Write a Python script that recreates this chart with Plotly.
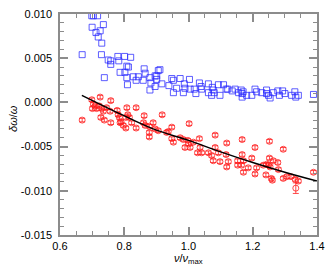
import plotly.graph_objects as go

# Blue squares (open)
blue_x = [0.699, 0.704, 0.717, 0.700, 0.735, 0.712, 0.725, 0.719, 0.730, 0.669, 0.729, 0.750, 0.758, 0.758,
          0.738, 0.780, 0.783, 0.801, 0.820, 0.808, 0.813, 0.787, 0.802, 0.808, 0.810, 0.828, 0.844, 0.837,
          0.862, 0.865, 0.859, 0.880, 0.883, 0.880, 0.896, 0.906, 0.911, 0.901, 0.901, 0.917, 0.896,
          0.948, 0.953, 0.974, 0.939, 0.963, 0.953, 0.984, 0.987, 1.003, 0.989, 1.005, 1.018, 1.023,
          1.034, 1.039, 1.041, 1.062, 1.062, 1.074, 1.077, 1.080, 1.093, 1.098, 1.072, 1.109, 1.117,
          1.122, 1.145, 1.136, 1.156, 1.164, 1.167, 1.167, 1.170, 1.181, 1.197, 1.207, 1.212, 1.228,
          1.243, 1.243, 1.249, 1.254, 1.264, 1.278, 1.293, 1.283, 1.300, 1.321, 1.331, 1.342, 1.334, 1.389]
blue_y = [0.0098, 0.0098, 0.0098, 0.0085, 0.0088, 0.0079, 0.0081, 0.0074, 0.0067, 0.0054, 0.0054, 0.0048, 0.0043, 0.0047,
          0.0028, 0.0052, 0.0047, 0.0052, 0.0051, 0.0041, 0.0040, 0.0034, 0.0034, 0.0028, 0.0020, 0.0029, 0.0029, 0.0025,
          0.0038, 0.0033, 0.0025, 0.0028, 0.0022, 0.0014, 0.0030, 0.0036, 0.0037, 0.0030, 0.0026, 0.0021, 0.0018,
          0.0027, 0.0025, 0.0027, 0.0019, 0.0016, 0.0011, 0.0011, 0.0021, 0.0026, 0.0016, 0.0015, 0.0015, 0.0010,
          0.0022, 0.0018, 0.0015, 0.0021, 0.0011, 0.0017, 0.0014, 0.0011, 0.0020, 0.0008, 0.0008, 0.0020, 0.0015,
          0.0015, 0.0015, 0.0013, 0.0011, 0.0014, 0.0010, 0.0006, 0.0012, 0.0008, 0.0008, 0.0015, 0.0012, 0.0011,
          0.0014, 0.0010, 0.0008, 0.0005, 0.0011, 0.0013, 0.0013, 0.0008, 0.0010, 0.0008, 0.0012, 0.0008, 0.0006, 0.0009]

# Red circles with error bars
red_x = [0.669, 0.699, 0.704, 0.701, 0.709, 0.714, 0.725, 0.722, 0.730, 0.735, 0.727, 0.738, 0.758, 0.756,
         0.758, 0.745, 0.778, 0.781, 0.785, 0.790, 0.787, 0.808, 0.811, 0.805, 0.816, 0.797, 0.805, 0.823,
         0.837, 0.837, 0.862, 0.860, 0.865, 0.878, 0.878, 0.878, 0.890, 0.896, 0.906, 0.918, 0.932,
         0.937, 0.948, 1.002, 0.948, 0.953, 0.974, 0.984, 0.998, 1.000, 0.989, 1.005, 1.015, 1.034, 1.036,
         1.028, 1.041, 1.062, 1.072, 1.083, 1.083, 1.077, 1.093, 1.098, 1.119, 1.117, 1.124, 1.119, 1.153,
         1.153, 1.167, 1.167, 1.171, 1.165, 1.171, 1.186, 1.197, 1.207, 1.212, 1.207, 1.233, 1.243, 1.252,
         1.252, 1.249, 1.254, 1.264, 1.278, 1.280, 1.241, 1.258, 1.261, 1.295, 1.295, 1.306, 1.319, 1.332,
         1.342, 1.334, 1.389]
red_y = [-0.0020, 0.0003, -0.0002, -0.0007, -0.0004, -0.0007, 0.0006, -0.0004, -0.0007, -0.0010, -0.0017, -0.0020, 0.0002, -0.0010,
         -0.0023, -0.0006, -0.0009, -0.0014, -0.0017, -0.0022, -0.0023, -0.0006, -0.0014, -0.0017, -0.0017, -0.0026, -0.0029, -0.0023,
         -0.0006, -0.0029, -0.0015, -0.0023, -0.0026, -0.0027, -0.0034, -0.0039, -0.0023, -0.0030, -0.0032, -0.0014, -0.0034,
         -0.0033, -0.0028, -0.0024, -0.0041, -0.0045, -0.0040, -0.0042, -0.0043, -0.0047, -0.0051, -0.0051, -0.0045, -0.0041, -0.0051,
         -0.0057, -0.0057, -0.0057, -0.0060, -0.0037, -0.0051, -0.0066, -0.0057, -0.0067, -0.0046, -0.0059, -0.0067, -0.0073, -0.0066,
         -0.0071, -0.0042, -0.0059, -0.0066, -0.0071, -0.0079, -0.0074, -0.0063, -0.0051, -0.0074, -0.0081, -0.0071, -0.0070, -0.0044,
         -0.0063, -0.0071, -0.0073, -0.0066, -0.0068, -0.0076, -0.0082, -0.0086, -0.0088, -0.0053, -0.0086, -0.0084, -0.0084, -0.0087,
         -0.0089, -0.0097, -0.0079]
red_err = [0.0002] * len(red_x)
red_err[-2] = 0.0006

# Model curve
line_x = [0.668, 0.787, 0.89, 1.0, 1.1, 1.2, 1.3, 1.4]
line_y = [0.0008, -0.0013, -0.0030, -0.0043, -0.0056, -0.0068, -0.0079, -0.0089]

y_ticks = [-0.015, -0.010, -0.005, 0.000, 0.005, 0.010]
y_ticklabels = ["-0.015", "-0.010", "-0.005", "0.000", "0.005", "0.010"]

x_title = "<i>ν</i>/<i>ν</i><sub>max</sub>"
y_title = "<i>δω</i>/<i>ω</i>"

FONT = "Liberation Sans, Arial, sans-serif"

fig = go.Figure()
fig.add_trace(go.Scatter(
    x=blue_x, y=blue_y, mode="markers",
    marker=dict(symbol="square-open", size=6, color="rgba(40,40,255,0.75)", line=dict(width=1)),
    showlegend=False))
fig.add_trace(go.Scatter(
    x=red_x, y=red_y, mode="markers",
    marker=dict(symbol="circle-open", size=6, color="rgba(255,30,30,0.8)", line=dict(width=1)),
    error_y=dict(type="data", array=red_err, visible=True, color="rgba(255,30,30,0.8)", thickness=1, width=3),
    showlegend=False))
fig.add_trace(go.Scatter(
    x=line_x, y=line_y, mode="lines", line=dict(color="black", width=1.5, shape="spline"),
    showlegend=False))

axis_common = dict(
    showline=True, linecolor="#8c8c8c", linewidth=1.5, mirror="allticks",
    ticks="inside", tickcolor="#8c8c8c", tickwidth=1.5,
    showgrid=False, zeroline=False, automargin=False,
    ticklabeloverflow="allow",
    tickfont=dict(family=FONT, size=11, color="black"),
)

fig.update_xaxes(range=[0.6, 1.4], dtick=0.2, tick0=0.6, tickformat=".1f", ticklen=8,
                 minor=dict(ticks="inside", dtick=0.05, ticklen=4, tickcolor="#8c8c8c", tickwidth=1.2),
                 **axis_common)
fig.update_yaxes(range=[-0.015, 0.0100001], tickmode="array", tickvals=y_ticks, ticktext=y_ticklabels,
                 ticklen=8, ticklabelstandoff=4,
                 minor=dict(ticks="inside", dtick=0.001, tick0=0, ticklen=4, tickcolor="#8c8c8c", tickwidth=1.2),
                 **axis_common)

fig.add_annotation(text=x_title, xref="paper", yref="paper", x=0.5, y=0,
                   xanchor="center", yanchor="top", yshift=-15, showarrow=False,
                   font=dict(family=FONT, size=11, color="black"))
fig.add_annotation(text=y_title, xref="paper", yref="paper", x=0, y=0.525,
                   xanchor="center", yanchor="middle", xshift=-47, textangle=-90, showarrow=False,
                   font=dict(family=FONT, size=11, color="black"))

# page has an 8px body margin, so the figure is sized to fit the 333x267 window
fig.update_layout(
    width=325, height=259,
    margin=dict(l=52, r=16, t=6, b=32, autoexpand=False),
    paper_bgcolor="white", plot_bgcolor="white",
)

fig.write_html("out.html")
